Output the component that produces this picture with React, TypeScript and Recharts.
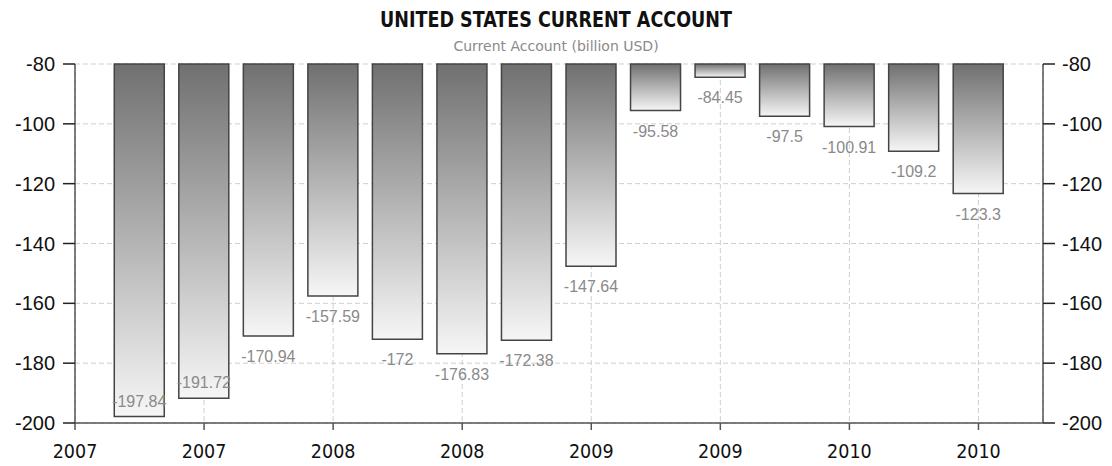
import { Bar, ComposedChart, CartesianGrid, LabelList, Line, XAxis, YAxis } from "recharts";

// quarterly US current account balance, billion USD
const quarters = [
  "Q1 2007", "Q2 2007", "Q3 2007", "Q4 2007",
  "Q1 2008", "Q2 2008", "Q3 2008", "Q4 2008",
  "Q1 2009", "Q2 2009", "Q3 2009", "Q4 2009",
  "Q1 2010", "Q2 2010",
];
// months after Jan 2007 where each bar sits on the time axis
const quarterMonth = [3, 6, 9, 12, 15, 18, 21, 24, 27, 30, 33, 36, 39, 42];
const currentAccount = [
  -197.84, -191.72, -170.94, -157.59, -172, -176.83, -172.38,
  -147.64, -95.58, -84.45, -97.5, -100.91, -109.2, -123.3,
];

const yearTickMonths = [0, 6, 12, 18, 24, 30, 36, 42];
const yearTickLabels = ["2007", "2007", "2008", "2008", "2009", "2009", "2010", "2010"];
const valueTicks = [-200, -180, -160, -140, -120, -100, -80];

const data = quarters.map((q, i) => ({
  quarter: q,
  month: quarterMonth[i],
  value: currentAccount[i],
}));

const W = 1112;
const H = 466;
const TOP = 64;
const X_AXIS_H = 43;
const PLOT_BOTTOM = H - X_AXIS_H;

const axisColor = "#555";
const tickFont = "'Liberation Sans', Arial, sans-serif";

function ValueLabel(props: any) {
  const { x, y, width, height, value } = props;
  const bottom = Math.max(Number(y), Number(y) + Number(height));
  const inside = bottom + 26 > PLOT_BOTTOM;
  return (
    <text
      x={Number(x) + Number(width) / 2}
      y={inside ? bottom - 10 : bottom + 26}
      textAnchor="middle"
      fill="#8a8a8a"
      fontSize={16}
      fontFamily={tickFont}
    >
      {value}
    </text>
  );
}

export default function App() {
  return (
    <div style={{ position: "absolute", left: 0, top: 0, width: W, height: H, background: "#fff" }}>
      <div
        style={{
          position: "absolute",
          top: 10,
          left: 0,
          width: W,
          textAlign: "center",
          fontFamily: "'DejaVu Sans Condensed', 'DejaVu Sans', sans-serif",
          fontStretch: "condensed",
          fontWeight: "bold",
          fontSize: 19.5,
          lineHeight: "20px",
          color: "#111",
          transform: "scaleY(1.1)",
        }}
      >
        UNITED STATES CURRENT ACCOUNT
      </div>
      <div
        style={{
          position: "absolute",
          top: 38,
          left: 0,
          width: W,
          textAlign: "center",
          fontFamily: "'DejaVu Sans', sans-serif",
          fontSize: 14,
          lineHeight: "16px",
          color: "#8a8a8a",
        }}
      >
        Current Account (billion USD)
      </div>
      <ComposedChart
        width={W}
        height={H}
        data={data}
        margin={{ top: TOP, right: 0, bottom: 0, left: 0 }}
        style={{ position: "absolute", left: 0, top: 0 }}
      >
        <defs>
          <linearGradient id="barFill" x1="0" y1="0" x2="0" y2="1">
            <stop offset="0%" stopColor="#707070" />
            <stop offset="100%" stopColor="#f6f6f6" />
          </linearGradient>
        </defs>
        <CartesianGrid yAxisId="left" stroke="#cfcfcf" strokeDasharray="5 3" />
        <XAxis
          dataKey="month"
          type="number"
          domain={[0, 45]}
          ticks={yearTickMonths}
          interval={0}
          height={X_AXIS_H}
          tickSize={7}
          tickMargin={14}
          tickFormatter={(m: number) => yearTickLabels[yearTickMonths.indexOf(m)] ?? ""}
          tick={{ fill: "#111", fontSize: 19.5, fontFamily: "'DejaVu Sans Condensed', 'DejaVu Sans', sans-serif" }}
          axisLine={{ stroke: axisColor, strokeWidth: 1.5 }}
          tickLine={{ stroke: axisColor, strokeWidth: 1.5 }}
        />
        <YAxis
          yAxisId="left"
          orientation="left"
          domain={[-200, -80]}
          ticks={valueTicks}
          interval={0}
          width={75}
          tickSize={12}
          tickMargin={8}
          tick={{ fill: "#111", fontSize: 20, fontFamily: tickFont }}
          axisLine={{ stroke: axisColor, strokeWidth: 1.5 }}
          tickLine={{ stroke: "#222", strokeWidth: 1.5 }}
        />
        <YAxis
          yAxisId="right"
          orientation="right"
          domain={[-200, -80]}
          ticks={valueTicks}
          interval={0}
          width={69}
          tickSize={12}
          tickMargin={7}
          tick={{ fill: "#111", fontSize: 20, fontFamily: tickFont }}
          axisLine={{ stroke: axisColor, strokeWidth: 1.5 }}
          tickLine={{ stroke: "#222", strokeWidth: 1.5 }}
        />
        <Bar
          yAxisId="left"
          dataKey="value"
          barSize={50}
          fill="url(#barFill)"
          stroke="#444"
          strokeWidth={1.5}
          isAnimationActive={false}
        >
          <LabelList dataKey="value" content={ValueLabel} />
        </Bar>
        {/* invisible series so the right-hand axis gets its ticks */}
        <Line
          yAxisId="right"
          dataKey="value"
          stroke="none"
          dot={false}
          activeDot={false}
          legendType="none"
          isAnimationActive={false}
        />
      </ComposedChart>
    </div>
  );
}
